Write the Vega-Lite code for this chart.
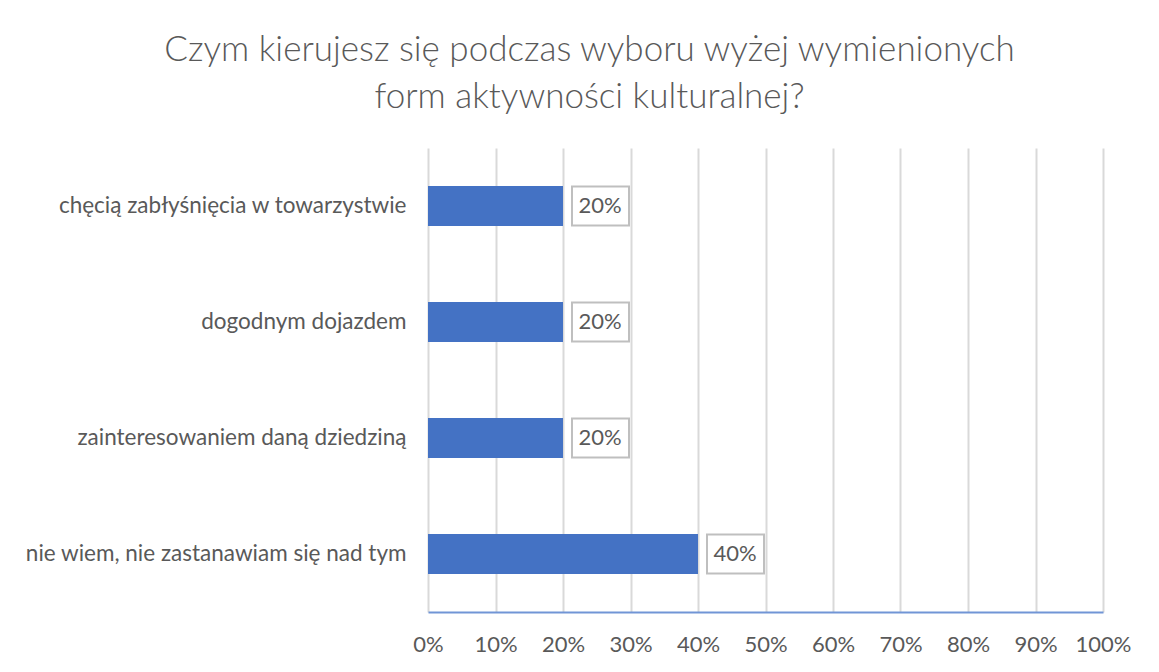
{
  "$schema": "https://vega.github.io/schema/vega-lite/v6.json",
  "width": 675,
  "height": 464,
  "autosize": {"type": "none"},
  "padding": {"left": 428, "top": 148, "right": 56, "bottom": 60},
  "background": "white",
  "title": {
    "text": ["Czym kierujesz się podczas wyboru wyżej wymienionych", "form aktywności kulturalnej?"],
    "font": "Lato",
    "fontSize": 35,
    "fontWeight": 300,
    "color": "#595959",
    "anchor": "middle",
    "dx": -176,
    "offset": 33,
    "lineHeight": 47
  },
  "data": {
    "values": [
      {"kategoria": "chęcią zabłyśnięcia w towarzystwie", "value": 0.2},
      {"kategoria": "dogodnym dojazdem", "value": 0.2},
      {"kategoria": "zainteresowaniem daną dziedziną", "value": 0.2},
      {"kategoria": "nie wiem, nie zastanawiam się nad tym", "value": 0.4}
    ]
  },
  "encoding": {
    "y": {
      "field": "kategoria",
      "type": "nominal",
      "sort": null,
      "scale": {"paddingInner": 0.655, "paddingOuter": 0.3275},
      "axis": {
        "title": null,
        "domain": false,
        "ticks": false,
        "labelFont": "Lato",
        "labelFontSize": 22.5,
        "labelColor": "#595959",
        "labelPadding": 22,
        "labelLimit": 500
      }
    }
  },
  "layer": [
    {
      "mark": {"type": "bar", "color": "#4472c4"},
      "encoding": {
        "x": {
          "field": "value",
          "type": "quantitative",
          "scale": {"domain": [0, 1]},
          "axis": {
            "title": null,
            "format": ".0%",
            "values": [0, 0.1, 0.2, 0.3, 0.4, 0.5, 0.6, 0.7, 0.8, 0.9, 1],
            "labelOverlap": false,
            "labelFlush": false,
            "grid": true,
            "gridColor": "#d9d9d9",
            "gridWidth": 2,
            "ticks": false,
            "domainColor": "#7195d6",
            "domainWidth": 2,
            "labelFont": "Lato",
            "labelFontSize": 22,
            "labelColor": "#595959",
            "labelPadding": 22
          }
        }
      }
    },
    {
      "mark": {"type": "bar", "size": 39, "fill": "white", "stroke": "#bfbfbf", "strokeWidth": 2, "xOffset": 9, "x2Offset": 66},
      "encoding": {
        "x": {"field": "value", "type": "quantitative"},
        "x2": {"field": "value"}
      }
    },
    {
      "mark": {"type": "text", "dx": 37, "font": "Lato", "fontSize": 22, "color": "#595959", "align": "center", "baseline": "middle"},
      "encoding": {
        "x": {"field": "value", "type": "quantitative"},
        "text": {"field": "value", "type": "quantitative", "format": ".0%"}
      }
    }
  ],
  "config": {"view": {"stroke": null}}
}
